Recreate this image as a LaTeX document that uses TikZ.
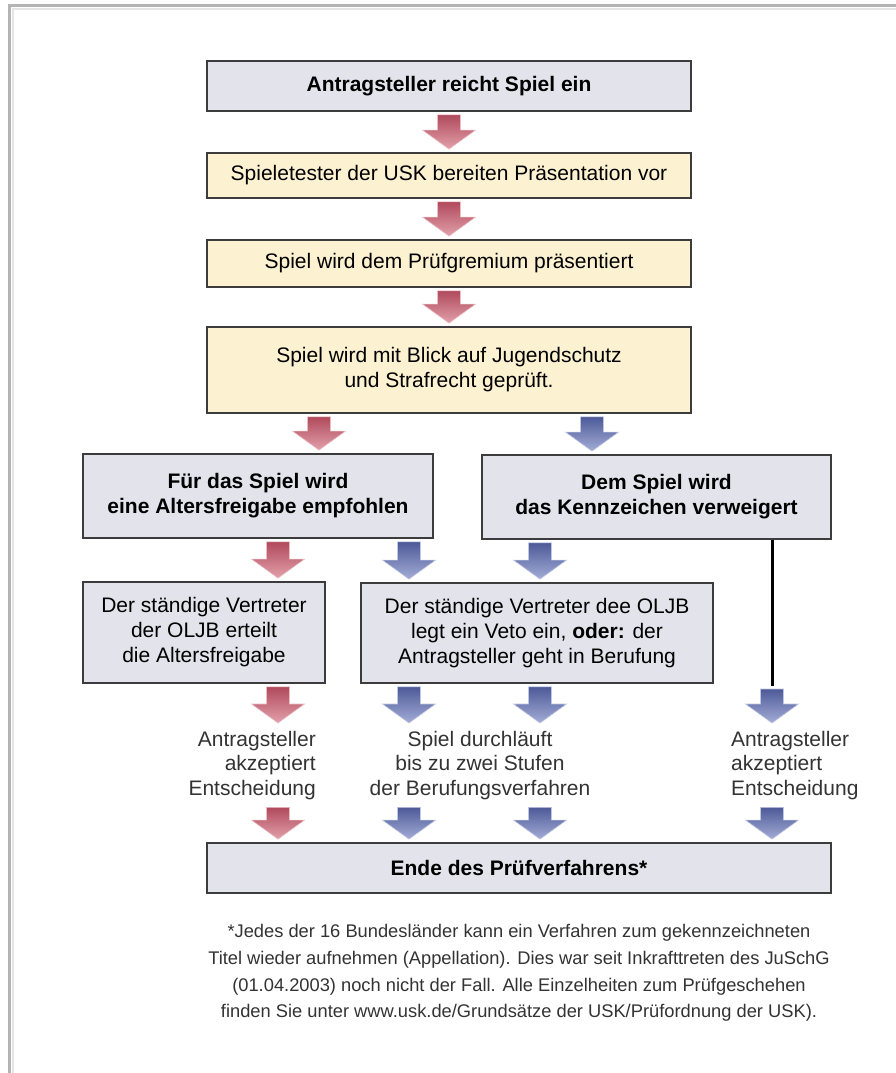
\documentclass[tikz,border=0pt]{standalone}
\usepackage{fontspec}
\setmainfont{Liberation Sans}
\usetikzlibrary{calc}

\definecolor{boxgray}{HTML}{E3E4EB}
\definecolor{boxcream}{HTML}{FCF1D0}
\definecolor{edge}{HTML}{3C3C3C}
\definecolor{redtop}{HTML}{B04A5C}
\definecolor{redbot}{HTML}{E2A0AA}
\definecolor{bluetop}{HTML}{4D5A98}
\definecolor{bluebot}{HTML}{A3ACD6}
\definecolor{framegray}{HTML}{B4B4B4}
\definecolor{notegray}{HTML}{333333}

\tikzset{
  box/.style={draw=edge, line width=1.8pt, inner sep=0pt, align=center,
    font=\fontsize{21}{25}\selectfont},
  graybox/.style={box, fill=boxgray},
  creambox/.style={box, fill=boxcream},
  lbl/.style={inner sep=0pt, text=notegray, font=\fontsize{21}{24.5}\selectfont},
  note/.style={inner sep=0pt, align=center, text=notegray, font=\fontsize{18.3}{26.7}\selectfont},
  redarrow/.style={top color=redtop, bottom color=redbot, draw=redbot!70!white, line width=0.6pt},
  bluearrow/.style={top color=bluetop, bottom color=bluebot, draw=bluebot!70!white, line width=0.6pt},
}

% block arrow: style, x reference, upper node anchor, lower node anchor
\newcommand{\blockarr}[4]{%
  \path[#1] let \p1=(#2), \p2=(#3), \p3=(#4) in
    (\x1-11.5pt,\y2-3pt) -- (\x1+11.5pt,\y2-3pt) -- (\x1+11.5pt,\y3+22pt)
    -- (\x1+26.5pt,\y3+22pt) -- (\x1,\y3+3pt) -- (\x1-26.5pt,\y3+22pt)
    -- (\x1-11.5pt,\y3+22pt) -- cycle;}

\begin{document}
\begin{tikzpicture}[x=1pt, y=-1pt]
  \useasboundingbox (0,0) rectangle (896,1073);
  \fill[white] (0,0) rectangle (896,1073);

  % page frame
  \draw[line width=3pt, framegray] (9.5,1073) -- (9.5,6) -- (896,6);
  \draw[line width=2pt, framegray!35] (12.5,1073) -- (12.5,9) -- (896,9);

  % boxes
  \node[graybox, minimum width=484, minimum height=50] (b1) at (449,86)
    {\textbf{Antragsteller reicht Spiel ein}};
  \node[creambox, minimum width=484, minimum height=45] (b2) at (449,175.5)
    {Spieletester der USK bereiten Präsentation vor};
  \node[creambox, minimum width=484, minimum height=47] (b3) at (449,263.5)
    {Spiel wird dem Prüfgremium präsentiert};
  \node[creambox, minimum width=484, minimum height=86] (b4) at (449,370)
    {Spiel wird mit Blick auf Jugendschutz\\und Strafrecht geprüft.};
  \node[graybox, minimum width=350, minimum height=84] (b5) at (258,496)
    {\textbf{Für das Spiel wird}\\\textbf{eine Altersfreigabe empfohlen}};
  \node[graybox, minimum width=349, minimum height=84] (b6) at (656.5,497)
    {\textbf{Dem Spiel wird}\\\textbf{das Kennzeichen verweigert}};
  \node[graybox, minimum width=242, minimum height=101] (b7) at (204,632.5)
    {Der ständige Vertreter\\der OLJB erteilt\\die Altersfreigabe};
  \node[graybox, minimum width=352, minimum height=100] (b8) at (537,633)
    {Der ständige Vertreter dee OLJB\\legt ein Veto ein, \textbf{oder:} der\\Antragsteller geht in Berufung};
  \node[graybox, minimum width=624, minimum height=50] (b9) at (519,868)
    {\textbf{Ende des Prüfverfahrens*}};

  % outcome labels
  \node[lbl, anchor=north east, align=right, minimum height=78] (la) at (316,726)
    {Antragsteller\\akzeptiert\\Entscheidung};
  \node[lbl, anchor=north, align=center, minimum height=78] (lb) at (480,726)
    {Spiel durchläuft\\bis zu zwei Stufen\\der Berufungsverfahren};
  \node[lbl, anchor=north west, align=left, minimum height=78] (lc) at (731,726)
    {Antragsteller\\akzeptiert\\Entscheidung};

  % footnote
  \node[note] (fn) at (519,973)
    {*Jedes der 16 Bundesländer kann ein Verfahren zum gekennzeichneten\\
     Titel wieder aufnehmen (Appellation). Dies war seit Inkrafttreten des JuSchG\\
     (01.04.2003) noch nicht der Fall. Alle Einzelheiten zum Prüfgeschehen\\
     finden Sie unter www.usk.de/Grundsätze der USK/Prüfordnung der USK).};

  % arrow columns
  \coordinate (xc) at (449,0);
  \coordinate (xa) at (319,0);
  \coordinate (xb) at (592,0);
  \coordinate (xr) at (278,0);
  \coordinate (xm) at (409,0);
  \coordinate (xn) at (540,0);
  \coordinate (xo) at (772,0);
  \coordinate (jR) at (772,686);

  % main sequence
  \blockarr{redarrow}{xc}{b1.south}{b2.north}
  \blockarr{redarrow}{xc}{b2.south}{b3.north}
  \blockarr{redarrow}{xc}{b3.south}{b4.north}
  \blockarr{redarrow}{xa}{b4.south}{b5.north}
  \blockarr{bluearrow}{xb}{b4.south}{b6.north}

  % second level
  \blockarr{redarrow}{xr}{b5.south}{b7.north}
  \blockarr{bluearrow}{xm}{b5.south}{b8.north}
  \blockarr{bluearrow}{xn}{b6.south}{b8.north}

  % refusal path
  \draw[line width=3pt, black] (b6.south -| xo) -- (jR);

  % to the outcomes
  \blockarr{redarrow}{xr}{b7.south}{la.north}
  \blockarr{bluearrow}{xm}{b8.south}{lb.north}
  \blockarr{bluearrow}{xn}{b8.south}{lb.north}
  \blockarr{bluearrow}{xo}{jR}{lc.north}

  % to the end
  \blockarr{redarrow}{xr}{la.south}{b9.north}
  \blockarr{bluearrow}{xm}{lb.south}{b9.north}
  \blockarr{bluearrow}{xn}{lb.south}{b9.north}
  \blockarr{bluearrow}{xo}{lc.south}{b9.north}
\end{tikzpicture}
\end{document}
